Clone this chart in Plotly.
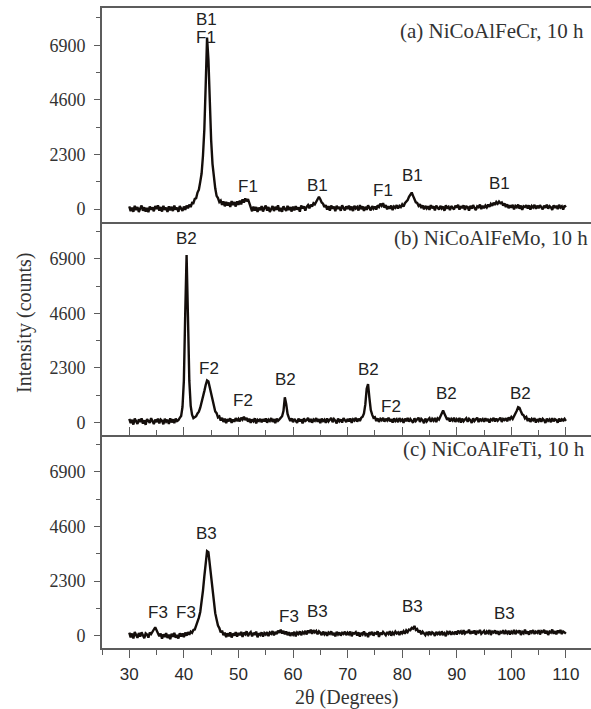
import plotly.graph_objects as go

# 2theta measurement grid (instrument step 0.25 deg, 30 -> 110)
two_theta = [30 + 0.25 * i for i in range(321)]

# (a) NiCoAlFeCr, 10 h  -- intensity (counts), 20 values per 5 degrees
counts_a = [
    120, -80, 60, -110, 140, -40, 90, -120, 30, 150, -70, 80, -100, 50, -130, 110, -20, 70, -90, 130,
    10, 160, -60, 90, -100, 140, -30, 70, -120, 120, -50, 100, -80, 150, -20, 60, -110, 130, 20, -70,
    110, -30, 150, 40, 190, 90, 260, 250, 430, 460, 700, 820, 1150, 1500, 2250, 3350, 5200, 7230, 6300, 4400,
    2900, 1900, 1250, 880, 560, 470, 300, 360, 180, 330, 120, 310, 150, 280, 90, 340, 170, 300, 110, 330,
    180, 360, 200, 410, 280, 450, 330, 420, 250, 60, -90, 110, -60, 90, -120, 70, -40, 130, -100, 60,
    150, -60, 90, -120, 40, 130, -80, 100, -30, 160, -90, 50, -110, 120, 10, -70, 140, -40, 90, -100,
    110, -50, 130, -20, 80, -110, 150, 30, 120, -60, 100, 170, 40, 190, 110, 250, 200, 330, 400, 520,
    420, 280, 230, 90, 170, -20, 130, -60, 150, 20, 110, -90, 140, 10, 90, -70, 160, 30, -50, 120,
    10, 150, -40, 110, -80, 140, 30, 90, -60, 170, 0, 120, -70, 100, -30, 160, 40, -50, 130, 20,
    110, -20, 160, 90, 230, 140, 250, 60, 170, -10, 120, 20, 150, -40, 110, 60, 170, 30, 140, 90,
    200, 110, 250, 300, 380, 520, 620, 700, 560, 430, 290, 260, 140, 210, 50, 160, -10, 140, 30, 120,
    -30, 170, 40, 120, -50, 150, 80, -20, 140, 30, 110, -70, 160, 50, 100, -40, 130, 70, -10, 150,
    60, 180, -20, 130, 40, 160, -30, 110, 90, -60, 140, 20, 170, 50, -40, 120, 80, 190, 0, 140,
    40, 150, 70, 190, 100, 220, 140, 270, 180, 300, 230, 320, 250, 280, 150, 240, 90, 200, 40, 160,
    60, 180, -10, 140, 80, 190, 20, 150, -30, 120, 90, 170, 30, 160, -20, 130, 70, 180, 10, 150,
    40, 170, 90, -10, 150, 60, 190, 20, 130, 80, -30, 160, 50, 140, 0, 180, 70, 120, -20, 150,
    80,
]

# (b) NiCoAlFeMo, 10 h
counts_b = [
    150, -30, 110, -90, 160, 40, -60, 130, 20, 170, -50, 90, -100, 140, 60, -20, 180, 30, -70, 120,
    10, 160, -40, 120, 70, -80, 150, 30, 110, -60, 170, 0, 130, -30, 160, 60, 100, 190, 270, 650,
    1750, 4600, 7060, 4450, 1750, 700, 330, 180, 230, 260, 380, 450, 620, 820, 1030, 1320, 1580, 1770, 1730, 1480,
    1200, 880, 660, 460, 390, 210, 250, 80, 190, 20, 160, -30, 140, 50, 170, -20, 120, 30, 180, 60,
    150, 40, 200, 120, 240, 100, 190, 30, 160, -20, 130, 50, 170, -40, 110, 60, 150, 0, 140, 40,
    170, -10, 120, 60, 180, 20, 140, -30, 160, 70, 130, 190, 260, 480, 1060, 780, 360, 190, 60, 170,
    10, 150, 80, -20, 160, 40, 130, -40, 170, 60, 100, 190, 20, 150, -10, 120, 70, 180, 30, 140,
    -30, 160, 60, 120, -20, 170, 40, 110, 190, 10, 140, 70, -40, 160, 50, 130, -10, 180, 90, 20,
    150, 40, 170, -20, 130, 80, 190, 30, 160, 60, 200, 240, 380, 760, 1420, 1620, 1020, 520, 330, 190,
    220, 60, 170, 20, 150, 90, 190, 30, 160, 80, 200, 40, 140, -10, 170, 60, 130, 10, 180, 70,
    120, -20, 160, 50, 190, 30, 140, 80, -10, 170, 60, 130, 200, 20, 150, 90, -30, 160, 40, 120,
    180, 30, 150, 70, 190, 10, 170, 120, 250, 340, 500, 370, 230, 110, 190, 40, 150, 80, 200, 20,
    140, 70, 190, -10, 160, 50, 120, 180, 30, 150, 90, -20, 170, 60, 130, 200, 10, 160, 80, 140,
    30, 180, 60, 150, -10, 130, 90, 190, 40, 160, 70, 120, 200, 20, 150, 100, 180, 50, 210, 130,
    230, 150, 250, 330, 490, 640, 610, 470, 340, 300, 170, 230, 60, 170, 20, 150, 90, 180, -10, 140,
    60, 170, 30, 150, 90, -20, 160, 70, 130, 10, 180, 50, 140, 100, -10, 160, 40, 130, 80, 150,
    60,
]

# (c) NiCoAlFeTi, 10 h
counts_c = [
    130, -70, 90, -120, 150, 20, -90, 110, -40, 140, 0, -110, 100, 50, -80, 130, 70, 200, 260, 350,
    240, 130, -20, 90, -130, 60, -60, 110, -100, 40, -150, 80, -50, 120, -90, 30, -120, 100, -40, 90,
    -60, 130, 0, 150, 40, 170, 120, 240, 260, 420, 560, 760, 1000, 1400, 1900, 2500, 3100, 3560, 3520, 3000,
    2400, 1800, 1300, 950, 680, 430, 320, 140, 210, 20, 130, -60, 100, -30, 140, -80, 90, 10, 150, -40,
    110, 20, 160, -50, 130, 60, 180, -20, 90, 150, -30, 120, 40, 170, -70, 100, 30, 140, -40, 110,
    50, 150, -20, 130, 80, 190, 10, 160, 70, 210, 120, 250, 90, 200, 60, 180, 20, 150, -10, 120,
    40, 160, -30, 130, 70, 180, 20, 150, 90, 200, 50, 220, 110, 250, 80, 230, 140, 200, 60, 180,
    120, 20, 170, 60, 150, -10, 130, 80, 180, 30, 110, -30, 160, 50, 140, 0, 120, 70, 170, 20,
    130, 60, 170, -20, 110, 90, 150, 10, 140, -40, 120, 50, 180, 30, 100, -60, 140, 70, 160, 0,
    110, 80, 180, -50, 130, 40, 160, 90, 20, 150, 70, 190, 0, 130, 60, 170, 90, 140, 30, 180,
    100, 190, 80, 220, 150, 260, 230, 330, 300, 410, 240, 280, 140, 220, 60, 170, 90, 20, 150, 60,
    170, 30, 140, 100, -10, 160, 70, 130, 20, 180, 60, 110, -20, 150, 90, 190, 40, 130, 80, 170,
    50, 210, 120, 180, 60, 230, 90, 160, 140, 250, 70, 190, 100, 220, 40, 170, 130, 240, 80, 150,
    200, 60, 180, 110, 240, 30, 170, 130, 220, 80, 190, 40, 160, 120, 230, 70, 180, 100, 210, 50,
    170, 110, 240, 60, 190, 140, 220, 30, 160, 100, 250, 80, 180, 40, 210, 130, 230, 70, 170, 120,
    230, 50, 190, 150, 240, 90, 200, 30, 170, 130, 260, 80, 190, 60, 220, 110, 240, 70, 180, 140,
    90,
]

assert len(counts_a) == len(counts_b) == len(counts_c) == len(two_theta)

panel_titles = ["(a) NiCoAlFeCr, 10 h", "(b) NiCoAlFeMo, 10 h", "(c) NiCoAlFeTi, 10 h"]

# peak labels: (text, 2theta, counts)
labels_a = [("B1", 44.1, 7990), ("F1", 44.1, 7210), ("F1", 51.7, 960), ("B1", 64.5, 990),
            ("F1", 76.4, 780), ("B1", 81.9, 1410), ("B1", 97.9, 1090)]
labels_b = [("B2", 40.5, 7740), ("F2", 44.6, 2290), ("F2", 50.9, 910), ("B2", 58.6, 1800),
            ("B2", 73.85, 2220), ("F2", 77.9, 670), ("B2", 88.1, 1240), ("B2", 101.6, 1240)]
labels_c = [("B3", 44.2, 4290), ("F3", 35.3, 980), ("F3", 40.4, 980), ("F3", 59.2, 810),
            ("B3", 64.55, 1020), ("B3", 81.9, 1230), ("B3", 98.8, 930)]

y_ticks = [0, 2300, 4600, 6900]
x_ticks = [30, 40, 50, 60, 70, 80, 90, 100, 110]

SERIF = "Liberation Serif"
SANS = "Liberation Sans"
LINE = "#5c5c5c"
TRACE = "#140e0b"

fig = go.Figure()
for data, xa, ya in [(counts_a, "x", "y"), (counts_b, "x2", "y2"), (counts_c, "x3", "y3")]:
    fig.add_trace(go.Scatter(x=two_theta, y=data, mode="lines", xaxis=xa, yaxis=ya,
                             line=dict(color=TRACE, width=2.4), showlegend=False,
                             hoverinfo="skip"))

xr = [25, 114.6]
yr = [-520, 8470]
doms = [[0.6664, 1.0], [0.3332, 0.6664], [0.0, 0.3332]]

def yax(dom):
    return dict(domain=dom, range=yr, showline=True, linecolor=LINE, linewidth=1.6,
                mirror=False, showgrid=False, zeroline=False,
                tickmode="array", tickvals=y_ticks, ticktext=[str(v) for v in y_ticks],
                ticks="outside", ticklen=6, tickwidth=1.4, tickcolor=LINE,
                minor=dict(ticks="outside", ticklen=4, tickwidth=1.4, tickcolor=LINE, dtick=1150, tick0=0),
                tickfont=dict(family=SERIF, size=18, color="#333333"), ticklabelstandoff=5)

common_x = dict(range=xr, showline=True, linecolor=LINE, linewidth=1.6, showgrid=False, zeroline=False)

fig.update_layout(
    width=591, height=709,
    margin=dict(l=102, r=0, t=8, b=61),
    paper_bgcolor="white", plot_bgcolor="white",
    xaxis=dict(**common_x, anchor="y", mirror=True, ticks="", showticklabels=False),
    xaxis2=dict(**common_x, anchor="y2", matches="x", ticks="inside", ticklen=8, tickwidth=1.4,
                tickcolor=LINE, dtick=10, tick0=0, showticklabels=False,
                minor=dict(ticks="inside", ticklen=5, tickwidth=1.4, tickcolor=LINE, dtick=5, tick0=0)),
    xaxis3=dict(**common_x, anchor="y3", matches="x", ticks="outside", ticklen=8, tickwidth=1.4,
                tickcolor=LINE, tickmode="array", tickvals=x_ticks, ticktext=[str(v) for v in x_ticks],
                minor=dict(ticks="outside", ticklen=5, tickwidth=1.4, tickcolor=LINE, dtick=5, tick0=0),
                tickfont=dict(family=SANS, size=17, color="#2a2a2a"), ticklabelstandoff=2),
    # tick marks of the top panel's lower edge (that panel was drawn on its own scale)
    xaxis4=dict(overlaying="x", anchor="y", range=[22.53, 104.3], showline=False, showgrid=False,
                zeroline=False, showticklabels=False, ticks="inside", ticklen=8, tickwidth=1.4,
                tickcolor=LINE, dtick=10, tick0=0,
                minor=dict(ticks="inside", ticklen=5, tickwidth=1.4, tickcolor=LINE, dtick=5, tick0=0)),
    yaxis=yax(doms[0]),
    yaxis2=yax(doms[1]),
    yaxis3=yax(doms[2]),
)

annotations = []
for labs, xref, yref in [(labels_a, "x", "y"), (labels_b, "x2", "y2"), (labels_c, "x3", "y3")]:
    for t, xv, yv in labs:
        annotations.append(dict(text=t, x=xv, y=yv, xref=xref, yref=yref, showarrow=False,
                                xanchor="center", yanchor="middle",
                                font=dict(family=SANS, size=17, color="#222222")))

title_pos = [(0.9898, 0.9645), (0.998, 0.640), (0.9918, 0.3105)]
for t, (px, py) in zip(panel_titles, title_pos):
    annotations.append(dict(text=t, x=px, y=py, xref="paper", yref="paper", showarrow=False,
                            xanchor="right", yanchor="middle",
                            font=dict(family=SERIF, size=21, color="#333333")))

annotations.append(dict(text="2θ (Degrees)", x=0.5, y=-0.0766, xref="paper", yref="paper",
                        showarrow=False, xanchor="center", yanchor="middle",
                        font=dict(family=SERIF, size=20, color="#333333")))
annotations.append(dict(text="Intensity (counts)", x=-0.1595, y=0.5078, xref="paper", yref="paper",
                        showarrow=False, xanchor="center", yanchor="middle", textangle=-90,
                        font=dict(family=SERIF, size=20, color="#333333")))
fig.update_layout(annotations=annotations)

fig.write_html("out.html", config={"displayModeBar": False},
               post_script="document.body.style.margin='0';document.body.style.overflow='hidden';")
